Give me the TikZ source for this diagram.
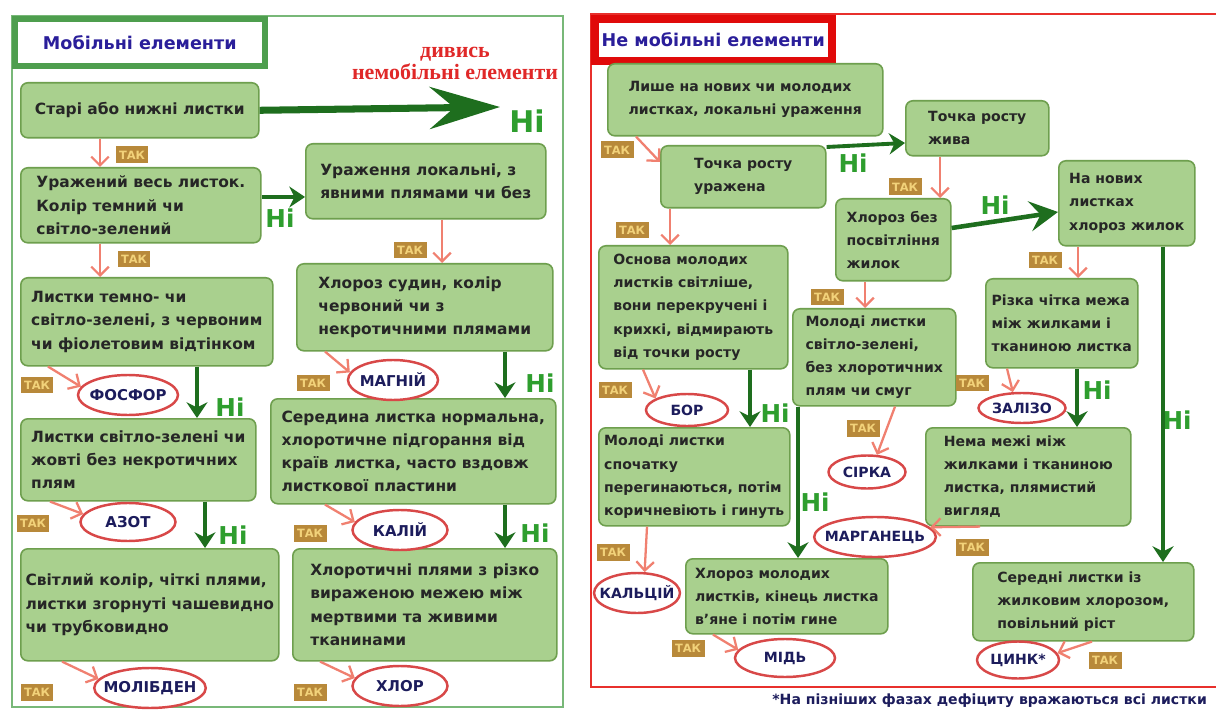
\documentclass[tikz,border=0pt]{standalone}
\usepackage{fontspec}
\setmainfont{DejaVu Sans}
\newfontfamily\hintfont{Liberation Serif}
\usetikzlibrary{arrows.meta,calc,shapes.geometric}

\definecolor{boxfill}{HTML}{A9D08E}
\definecolor{boxline}{HTML}{6E9F4E}
\definecolor{nogreen}{HTML}{1E6E1E}
\definecolor{nitext}{HTML}{2E9E2E}
\definecolor{yespink}{HTML}{F08070}
\definecolor{ovalred}{HTML}{D84848}
\definecolor{elemblue}{HTML}{1C1C5C}
\definecolor{takfill}{HTML}{B8893A}
\definecolor{taktext}{HTML}{F2D27A}
\definecolor{titleblue}{HTML}{2A1E9A}
\definecolor{mobgreen}{HTML}{4E9E4E}
\definecolor{framegreen}{HTML}{78B878}
\definecolor{redframe}{HTML}{E8302C}
\definecolor{titlered}{HTML}{E00A0A}
\definecolor{hintred}{HTML}{E02828}

\tikzset{
    wh/.style n args={2}{minimum width=#1*0.02cm, minimum height=#2*0.02cm},
    sign/.style={draw=boxline, fill=boxfill, rounded corners=4pt, line width=0.9pt, anchor=north west, align=left, text=black!85, inner sep=2pt, font=\bfseries\fontsize{8.8}{13.2}\selectfont},
    signr/.style={sign, font=\bfseries\fontsize{8}{13.2}\selectfont},
    titlebox/.style={anchor=north west, fill=white, text=titleblue, font=\bfseries\fontsize{10}{12}\selectfont},
    elem/.style={ellipse, draw=ovalred, line width=1.4pt, fill=white, text=elemblue, inner xsep=-4pt, inner ysep=-1pt, font=\bfseries\fontsize{8.5}{10}\selectfont},
    elemr/.style={elem, font=\bfseries\fontsize{8}{10}\selectfont},
    tak/.style={fill=takfill, text=taktext, inner sep=1pt, minimum width=0.66cm, minimum height=0.34cm, font=\bfseries\fontsize{6.5}{7}\selectfont},
    ni/.style={text=nitext, inner sep=0pt, font=\bfseries\fontsize{14}{16}\selectfont},
    yesarr/.style={-{Straight Barb[length=5pt,width=10pt]}, draw=yespink, line width=1.3pt},
    noarr/.style={-{Stealth[length=9pt,width=12pt,inset=3pt]}, draw=nogreen, line width=2.2pt},
    noarrmid/.style={-{Stealth[length=16pt,width=17pt,inset=6pt]}, draw=nogreen, line width=2.6pt},
    noarrbig/.style={-{Stealth[length=40pt,width=24pt,inset=14pt]}, draw=nogreen, line width=4pt}
}

\begin{document}
\begin{tikzpicture}[x=0.02cm, y=-0.02cm]
\useasboundingbox (0,0) rectangle (1216,719);
\fill[white] (0,0) rectangle (1216,719);

% mobile elements
\draw[framegreen, line width=1.6pt] (12,16) rectangle (563,707);
\node[titlebox, draw=mobgreen, line width=3.2pt, wh={250}{47}] (mob) at (12,16) {Мобільні елементи};
\node[text=hintred, align=center, font=\hintfont\bfseries\fontsize{12.5}{12.5}\selectfont] (hint) at (455,63) {дивись\\немобільні елементи};

\node[sign, wh={238}{55}] (a1) at (20,82) {Старі або нижні листки};
\node[sign, wh={240}{75}] (a2) at (20,167) {Уражений весь листок.\\Колір темний чи\\світло-зелений};
\node[sign, wh={240}{75}] (b1) at (305,143) {Ураження локальні, з\\явними плямами чи без};
\node[sign, wh={252}{88}] (a3) at (20,277) {Листки темно- чи\\світло-зелені, з червоним\\чи фіолетовим відтінком};
\node[sign, wh={256}{87}] (b2) at (296,263) {Хлороз судин, колір\\червоний чи з\\некротичними плямами};
\node[sign, wh={235}{82}] (a4) at (20,418) {Листки світло-зелені чи\\жовті без некротичних\\плям};
\node[sign, wh={285}{105}] (b3) at (270,398) {Середина листка нормальна,\\хлоротичне підгорання від\\країв листка, часто вздовж\\листкової пластини};
\node[sign, wh={258}{112}] (a5) at (20,548) {Світлий колір, чіткі плями,\\листки згорнуті чашевидно\\чи трубковидно};
\node[sign, wh={264}{112}] (b4) at (292,548) {Хлоротичні плями з різко\\вираженою межею між\\мертвими та живими\\тканинами};

\node[elem, wh={100}{40}] (fosfor) at (128,395) {ФОСФОР};
\node[elem, wh={95}{38}] (azot) at (128,522) {АЗОТ};
\node[elem, wh={105}{40}] (molibden) at (150,688) {МОЛІБДЕН};
\node[elem, wh={90}{40}] (magnii) at (393,380) {МАГНІЙ};
\node[elem, wh={95}{40}] (kalii) at (400,530) {КАЛІЙ};
\node[elem, wh={95}{40}] (khlor) at (400,686) {ХЛОР};

\node[tak] (t1) at (132,155) {ТАК};
\node[tak] (t2) at (134,259) {ТАК};
\node[tak] (t3) at (37,385) {ТАК};
\node[tak] (t4) at (33,523) {ТАК};
\node[tak] (t5) at (37,692) {ТАК};
\node[tak] (t6) at (410,250) {ТАК};
\node[tak] (t7) at (313,383) {ТАК};
\node[tak] (t8) at (310,533) {ТАК};
\node[tak] (t9) at (310,692) {ТАК};

\coordinate (bigtip) at (500,107);
\node[ni, font=\bfseries\fontsize{17}{18}\selectfont] (n0) at (527,121) {Ні};
\node[ni] (n1) at (280,218) {Ні};
\node[ni] (n2) at (230,407) {Ні};
\node[ni] (n3) at (233,535) {Ні};
\node[ni] (n4) at (540,383) {Ні};
\node[ni] (n5) at (535,533) {Ні};

\draw[noarrbig] (a1.east) -- (bigtip);
\draw[yesarr] ($(a1.south west)+(80,0)$) -- ($(a2.north west)+(80,0)$);
\draw[noarr] ($(a2.north east)+(0,30)$) -- ($(b1.north west)+(0,54)$);
\draw[yesarr] ($(a2.south west)+(80,0)$) -- ($(a3.north west)+(80,0)$);
\draw[yesarr] ($(a3.south west)+(28,0)$) -- (fosfor.170);
\draw[noarr] ($(a3.south west)+(177,0)$) -- ($(a4.north west)+(177,0)$);
\draw[yesarr] ($(a4.south west)+(30,0)$) -- (azot.170);
\draw[noarr] ($(a4.south west)+(185,0)$) -- ($(a5.north west)+(185,0)$);
\draw[yesarr] ($(a5.south west)+(42,0)$) -- (molibden.170);
\draw[yesarr] ($(b1.south west)+(137,0)$) -- ($(b2.north west)+(146,0)$);
\draw[yesarr] ($(b2.south west)+(29,0)$) -- (magnii.170);
\draw[noarr] ($(b2.south west)+(209,0)$) -- ($(b3.north west)+(235,0)$);
\draw[yesarr] ($(b3.south west)+(55,0)$) -- (kalii.170);
\draw[noarr] ($(b3.south west)+(235,0)$) -- ($(b4.north west)+(213,0)$);
\draw[yesarr] ($(b4.south west)+(28,0)$) -- (khlor.170);

% immobile elements
\draw[redframe, line width=1.6pt] (1216,14) -- (591,14) -- (591,687) -- (1216,687);
\node[titlebox, draw=titlered, line width=4.4pt, wh={237}{42}] (nemob) at (591,15) {Не мобільні елементи};

\node[signr, wh={275}{72}] (c1) at (607,63) {Лише на нових чи молодих\\листках, локальні ураження};
\node[signr, wh={165}{62}] (c2) at (660,145) {Точка росту\\уражена};
\node[signr, wh={143}{55}] (d1) at (905,100) {Точка росту\\жива};
\node[signr, wh={115}{82}] (d2) at (835,198) {Хлороз без\\посвітління\\жилок};
\node[signr, wh={136}{85}] (e1) at (1058,160) {На нових\\листках\\хлороз жилок};
\node[signr, wh={152}{89}] (e2) at (985,278) {Різка чітка межа\\між жилками і\\тканиною листка};
\node[signr, wh={205}{98}] (e3) at (925,427) {Нема межі між\\жилками і тканиною\\листка, плямистий\\вигляд};
\node[signr, wh={221}{78}] (f1) at (972,562) {Середні листки із\\жилковим хлорозом,\\повільний ріст};
\node[signr, wh={189}{123}] (g1) at (598,245) {Основа молодих\\листків світліше,\\вони перекручені і\\крихкі, відмирають\\від точки росту};
\node[signr, wh={191}{98}] (g2) at (598,427) {Молоді листки\\спочатку\\перегинаються, потім\\коричневіють і гинуть};
\node[signr, wh={163}{97}] (h1) at (792,308) {Молоді листки\\світло-зелені,\\без хлоротичних\\плям чи смуг};
\node[signr, wh={202}{75}] (h2) at (685,558) {Хлороз молодих\\листків, кінець листка\\в’яне і потім гине};

\node[elemr, wh={82}{32}] (bor) at (687,410) {БОР};
\node[elemr, wh={82}{40}] (kaltsii) at (637,593) {КАЛЬЦІЙ};
\node[elemr, wh={77}{33}] (sirka) at (867,472) {СІРКА};
\node[elemr, wh={100}{38}] (midj) at (785,658) {МІДЬ};
\node[elemr, wh={87}{30}] (zalizo) at (1022,408) {ЗАЛІЗО};
\node[elemr, wh={120}{40}] (marganets) at (875,537) {МАРГАНЕЦЬ};
\node[elemr, wh={82}{37}] (tsynk) at (1018,660) {ЦИНК*};

\node[tak] (t10) at (617,150) {ТАК};
\node[tak] (t11) at (632,230) {ТАК};
\node[tak] (t12) at (905,187) {ТАК};
\node[tak] (t13) at (1045,260) {ТАК};
\node[tak] (t14) at (827,297) {ТАК};
\node[tak] (t15) at (615,390) {ТАК};
\node[tak] (t16) at (863,428) {ТАК};
\node[tak] (t17) at (972,383) {ТАК};
\node[tak] (t18) at (972,547) {ТАК};
\node[tak] (t19) at (613,552) {ТАК};
\node[tak] (t20) at (688,648) {ТАК};
\node[tak] (t21) at (1105,660) {ТАК};

\node[ni] (n6) at (853,163) {Ні};
\node[ni] (n7) at (995,205) {Ні};
\node[ni] (n8) at (1097,390) {Ні};
\node[ni] (n9) at (1177,420) {Ні};
\node[ni] (n10) at (775,413) {Ні};
\node[ni] (n11) at (815,502) {Ні};

\draw[yesarr] ($(c1.south west)+(29,0)$) -- ($(c2.north west)+(0,17)$);
\draw[noarr] ($(c2.north east)+(0,2)$) -- ($(d1.north west)+(0,43)$);
\draw[yesarr] ($(d1.south west)+(35,0)$) -- ($(d2.north west)+(105,0)$);
\draw[noarrmid] ($(d2.north east)+(0,30)$) -- ($(e1.north west)+(0,52)$);
\draw[yesarr] ($(e1.south west)+(20,0)$) -- ($(e2.north west)+(93,0)$);
\draw[yesarr] ($(e2.south west)+(22,0)$) -- (zalizo.120);
\draw[noarr] ($(e2.south west)+(92,0)$) -- ($(e3.north west)+(152,0)$);
\draw[yesarr] ($(e3.south west)+(55,0)$) -- (marganets.10);
\draw[noarr] ($(e1.south west)+(105,0)$) -- ($(f1.north west)+(191,0)$);
\draw[yesarr] ($(f1.south west)+(120,0)$) -- (tsynk.10);
\draw[yesarr] ($(c2.south west)+(10,0)$) -- ($(g1.north west)+(72,0)$);
\draw[yesarr] ($(g1.south west)+(45,0)$) -- (bor.160);
\draw[noarr] ($(g1.south west)+(152,0)$) -- ($(g2.north west)+(152,0)$);
\draw[yesarr] ($(d2.south west)+(30,0)$) -- ($(h1.north west)+(73,0)$);
\draw[noarr] ($(h1.south west)+(6,0)$) -- ($(h2.north west)+(113,0)$);
\draw[yesarr] ($(h1.south west)+(103,0)$) -- (sirka.60);
\draw[yesarr] ($(g2.south west)+(49,0)$) -- (kaltsii.70);
\draw[yesarr] ($(h2.south west)+(28,0)$) -- (midj.170);

\node[anchor=east, text=elemblue, font=\bfseries\fontsize{8}{9}\selectfont] (note) at (1213,701) {*На пізніших фазах дефіциту вражаються всі листки};
\end{tikzpicture}
\end{document}
